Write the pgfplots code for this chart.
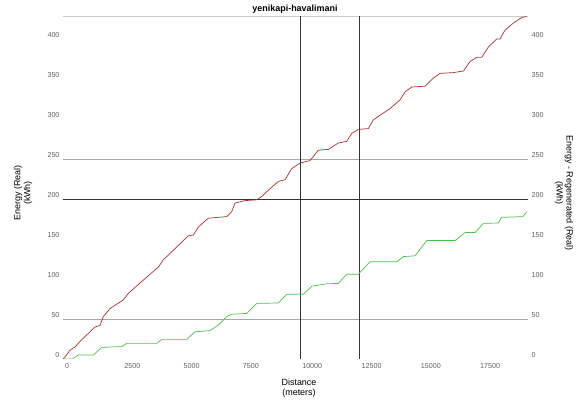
\documentclass[border=0pt]{standalone}
\usepackage{pgfplots}
\pgfplotsset{compat=1.18}
\usepackage{fontspec}
\setmainfont{Liberation Sans}
\definecolor{redline}{HTML}{A83232}
\definecolor{greenline}{HTML}{4CC04C}
\definecolor{ticktext}{HTML}{606060}
\definecolor{gridgray}{HTML}{A8A8A8}
\begin{document}
\begin{tikzpicture}
\useasboundingbox (0,0) rectangle (581bp,401bp);
\pgfplotsset{
  common/.style={
    at={(63bp,42bp)}, anchor=south west,
    scale only axis, width=465bp, height=343bp,
    xmin=0, xmax=19600, ymin=0, ymax=428.75,
    axis line style={draw=none},
    major tick length=0pt,
    ytick={0,50,...,400},
    scaled ticks=false,
    /pgf/number format/assume math mode=true,
    /pgf/number format/set thousands separator={},
    tick label style={font=\fontsize{7.2}{8}\selectfont, text=ticktext},
  }
}
\begin{axis}[common,
  xtick={0,2500,...,17500},
  xticklabel style={anchor=north west, xshift=-1.5bp, yshift=-0.5bp},
  yticklabel style={anchor=east, yshift=4bp, xshift=0bp},
]
\draw[gridgray, line width=0.7bp] (axis cs:0,50) -- (axis cs:19600,50);
\draw[gridgray, line width=0.7bp] (axis cs:0,250) -- (axis cs:19600,250);
\draw[gridgray!60, line width=0.6bp] (rel axis cs:0,1) -- (rel axis cs:1,1);
\draw[black!80, line width=0.7bp] (axis cs:0,200) -- (axis cs:19600,200);
\draw[black!80, line width=0.7bp] (axis cs:10000,0) -- (axis cs:10000,428.75);
\draw[black!80, line width=0.7bp] (axis cs:12500,0) -- (axis cs:12500,428.75);
\draw[black, line width=0.8bp] (rel axis cs:0,0) -- (rel axis cs:1,0);
\addplot[redline, line width=0.7bp] coordinates {
(0,0) (150,5) (295,11) (506,15) (717,22) (1000,30) (1350,40) (1560,42)
(1700,53) (1980,63) (2545,74) (2755,82) (3246,95) (4020,115) (4230,124)
(4650,136) (5283,154) (5495,155) (5705,165) (6127,176) (6900,178) (7110,184)
(7250,195) (7673,198) (8165,199) (8375,203) (8655,211) (9080,222) (9360,224)
(9640,238) (9990,245) (10410,248) (10765,261) (11185,262) (11605,270)
(11960,272) (12170,282) (12450,287) (12870,288) (13080,299) (13785,313)
(14210,324) (14420,334) (14700,340) (15260,341) (15610,351) (15895,357)
(16455,358) (16880,360) (17160,372) (17440,377) (17650,377) (17930,390)
(18280,400) (18420,400) (18630,411) (18985,420) (19340,427) (19550,428)
};
\addplot[greenline, line width=0.7bp] coordinates {
(0,0) (400,0) (645,5) (1280,5) (1630,14.5) (2470,15.5) (2680,19.5) (3950,19.5)
(4160,24.5) (5215,24.5) (5565,34) (6200,35.5) (6550,42.5) (6900,53) (7110,56)
(7745,57) (8165,69.5) (9080,70) (9430,81) (10130,81) (10485,91) (11115,94)
(11605,94.5) (11960,106) (12450,106) (12940,121.5) (14070,121.5) (14350,128)
(14840,129) (15330,148) (16525,148) (16950,158) (17370,158) (17720,169.5)
(18350,170) (18490,177) (19380,178) (19550,184)
};
\end{axis}
\begin{axis}[common,
  hide x axis,
  axis y line*=right,
  yticklabel style={anchor=west, yshift=4bp, xshift=0bp},
]
\end{axis}
\node[font=\bfseries\fontsize{9}{10}\selectfont] at (295bp,392bp) {yenikapi-havalimani};
\node[font=\fontsize{9}{10}\selectfont, align=center] at (299bp,13bp) {Distance\\(meters)};
\node[font=\fontsize{9}{10}\selectfont, align=center, rotate=90] at (23bp,208bp) {Energy (Real)\\(kWh)};
\node[font=\fontsize{9}{10}\selectfont, align=center, rotate=-90] at (564bp,208bp) {Energy - Regenerated (Real)\\(kWh)};
\end{tikzpicture}
\end{document}
